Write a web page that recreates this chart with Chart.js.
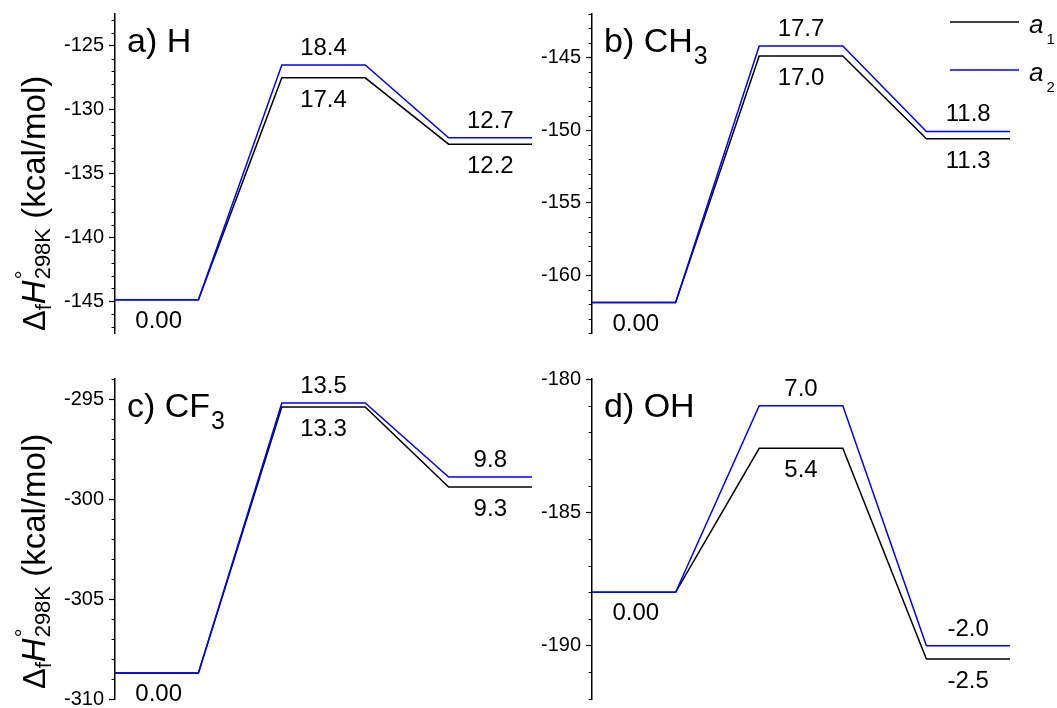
<!DOCTYPE html>
<html lang="en">
<head>
<meta charset="UTF-8">
<title>Enthalpy profiles</title>
<script src="https://cdn.jsdelivr.net/npm/chart.js"></script>
<style>
  html, body { margin: 0; padding: 0; background: #fff; overflow: hidden; width: 1057px; height: 708px; }
  canvas { position: absolute; }
</style>
</head>
<body>
<canvas id="chartH" width="560" height="354" style="left:0;top:0"></canvas>
<canvas id="chartCH3" width="577" height="354" style="left:480px;top:0"></canvas>
<canvas id="chartCF3" width="560" height="380" style="left:0;top:354px"></canvas>
<canvas id="chartOH" width="577" height="380" style="left:480px;top:354px"></canvas>

<script>
const FONT = "'Liberation Sans', Arial, sans-serif";

// panel names (main text + subscript)
const panelNames = ['a) H', 'b) CH', 'c) CF', 'd) OH'];
const panelSubs = ['', '3', '3', ''];

// reactant enthalpy (kcal/mol)
const baseValues = [-144.9, -161.9, -308.7, -188.0];

// relative enthalpies: reactant, TS, product
const a1_H = [0.00, 17.4, 12.2];
const a2_H = [0.00, 18.4, 12.7];
const a1_CH3 = [0.00, 17.0, 11.3];
const a2_CH3 = [0.00, 17.7, 11.8];
const a1_CF3 = [0.00, 13.3, 9.3];
const a2_CF3 = [0.00, 13.5, 9.8];
const a1_OH = [0.00, 5.4, -2.5];
const a2_OH = [0.00, 7.0, -2.0];

// axis ranges and labelled ticks
const yMins = [-147.5, -164, -310, -192];
const yMaxs = [-122.5, -142, -294, -180];
const ticks_H = [-145, -140, -135, -130, -125];
const ticks_CH3 = [-160, -155, -150, -145];
const ticks_CF3 = [-310, -305, -300, -295];
const ticks_OH = [-190, -185, -180];

const seriesNames = ['a', 'a'];
const seriesSubs = ['1', '2'];
const seriesColors = ['#000000', '#0000ff'];

const a1Sets = [a1_H, a1_CH3, a1_CF3, a1_OH];
const a2Sets = [a2_H, a2_CH3, a2_CF3, a2_OH];
const tickSets = [ticks_H, ticks_CH3, ticks_CF3, ticks_OH];

// layout of each canvas
const canvasIds = ['chartH', 'chartCH3', 'chartCF3', 'chartOH'];
const axisWidths = [115, 112, 115, 112];
const pads = [
  { left: 0, top: 14, right: 28, bottom: 21 },
  { left: 0, top: 14, right: 47, bottom: 21 },
  { left: 0, top: 25, right: 28, bottom: 35 },
  { left: 0, top: 25, right: 47, bottom: 35 }
];

function stepPoints(base, rel) {
  const pts = [];
  rel.forEach((r, i) => {
    pts.push({ x: 2 * i, y: base + r });
    pts.push({ x: 2 * i + 1, y: base + r });
  });
  return pts;
}

function drawYTitle(ctx, x, y) {
  ctx.save();
  ctx.translate(x, y);
  ctx.rotate(-Math.PI / 2);
  ctx.fillStyle = '#000';
  ctx.textBaseline = 'alphabetic';
  ctx.textAlign = 'left';
  let cx = 0;
  const put = (txt, size, style, dy) => {
    ctx.font = style + ' ' + size + 'px ' + FONT;
    ctx.fillText(txt, cx, dy);
    return ctx.measureText(txt).width;
  };
  cx += put('\u0394', 31, 'normal', 0);
  cx += put('f', 22, 'normal', 6);
  cx += put('H', 33, 'italic', 0) + 1;
  const w1 = put('\u00b0', 22, 'normal', -14);
  const w2 = put('298K', 22, 'normal', 5);
  cx += Math.max(w1, w2);
  put(' (kcal/mol)', 33, 'normal', 0);
  ctx.restore();
}

function makeDecor(p) {
  return {
    id: 'decor' + p,
    afterDraw(chart) {
      const ctx = chart.ctx;
      const xs = chart.scales.x;
      const ys = chart.scales.y;
      const area = chart.chartArea;
      ctx.save();

      // minor ticks, one per kcal/mol
      ctx.strokeStyle = '#000';
      ctx.lineWidth = 1;
      for (let v = Math.ceil(ys.min); v <= Math.floor(ys.max); v++) {
        if (v % 5 === 0) continue;
        const py = Math.round(ys.getPixelForValue(v)) + 0.5;
        ctx.beginPath();
        ctx.moveTo(area.left - 3.5, py);
        ctx.lineTo(area.left, py);
        ctx.stroke();
      }

      // level labels
      ctx.fillStyle = '#000';
      ctx.font = '24px ' + FONT;
      ctx.textAlign = 'center';
      ctx.textBaseline = 'alphabetic';
      const base = baseValues[p];
      const r1 = a1Sets[p], r2 = a2Sets[p];
      ctx.fillText('0.00', xs.getPixelForValue(0.5) + 2, ys.getPixelForValue(base + r1[0]) + 28);
      for (let i = 1; i < r1.length; i++) {
        const xc = xs.getPixelForValue(2 * i + 0.5);
        ctx.fillText(r2[i].toFixed(1), xc, ys.getPixelForValue(base + r2[i]) - 10);
        ctx.fillText(r1[i].toFixed(1), xc, ys.getPixelForValue(base + r1[i]) + 29);
      }

      // panel name
      ctx.textAlign = 'left';
      ctx.font = '34px ' + FONT;
      const tx = area.left + 12, ty = area.top + 38;
      ctx.fillText(panelNames[p], tx, ty);
      if (panelSubs[p]) {
        const w = ctx.measureText(panelNames[p]).width;
        ctx.font = '25px ' + FONT;
        ctx.fillText(panelSubs[p], tx + w + 1, ty + 12);
      }

      // y axis title on left panels
      if (p === 0 || p === 2) {
        drawYTitle(ctx, 45, area.bottom - (p === 0 ? 2 : 10));
      }

      // legend on panel b
      if (p === 1) {
        seriesNames.forEach((nm, i) => {
          const ly = 22 + i * 48;
          ctx.strokeStyle = seriesColors[i];
          ctx.lineWidth = 1.5;
          ctx.beginPath();
          ctx.moveTo(470, ly);
          ctx.lineTo(539, ly);
          ctx.stroke();
          ctx.fillStyle = '#000';
          ctx.font = 'italic 26px ' + FONT;
          ctx.fillText(nm, 549, ly + 11);
          const w = ctx.measureText(nm).width;
          ctx.font = '15px ' + FONT;
          ctx.fillText(seriesSubs[i], 549 + w + 3, ly + 22);
        });
      }
      ctx.restore();
    }
  };
}

canvasIds.forEach((id, p) => {
  const base = baseValues[p];
  new Chart(document.getElementById(id), {
    type: 'line',
    data: {
      datasets: [
        {
          label: 'a1',
          data: stepPoints(base, a1Sets[p]),
          borderColor: seriesColors[0],
          borderWidth: 1.5,
          pointRadius: 0,
          tension: 0,
          fill: false,
          order: 1
        },
        {
          label: 'a2',
          data: stepPoints(base, a2Sets[p]),
          borderColor: seriesColors[1],
          borderWidth: 1.5,
          pointRadius: 0,
          tension: 0,
          fill: false,
          order: 0
        }
      ]
    },
    options: {
      responsive: false,
      animation: false,
      events: [],
      layout: { padding: pads[p] },
      plugins: { legend: { display: false }, tooltip: { enabled: false } },
      scales: {
        x: { type: 'linear', min: 0, max: 5, display: false },
        y: {
          min: yMins[p],
          max: yMaxs[p],
          ticks: {
            color: '#000',
            padding: 5,
            font: { family: FONT, size: 20 },
            callback: v => String(v)
          },
          grid: { drawOnChartArea: false, tickLength: 6, tickColor: '#000', tickWidth: 1.2 },
          border: { color: '#000', width: 1.5 },
          afterBuildTicks: s => { s.ticks = tickSets[p].map(v => ({ value: v })); },
          afterFit: s => { s.width = axisWidths[p]; s.paddingTop = 0; s.paddingBottom = 0; }
        }
      }
    },
    plugins: [makeDecor(p)]
  });
});
</script>
</body>
</html>
